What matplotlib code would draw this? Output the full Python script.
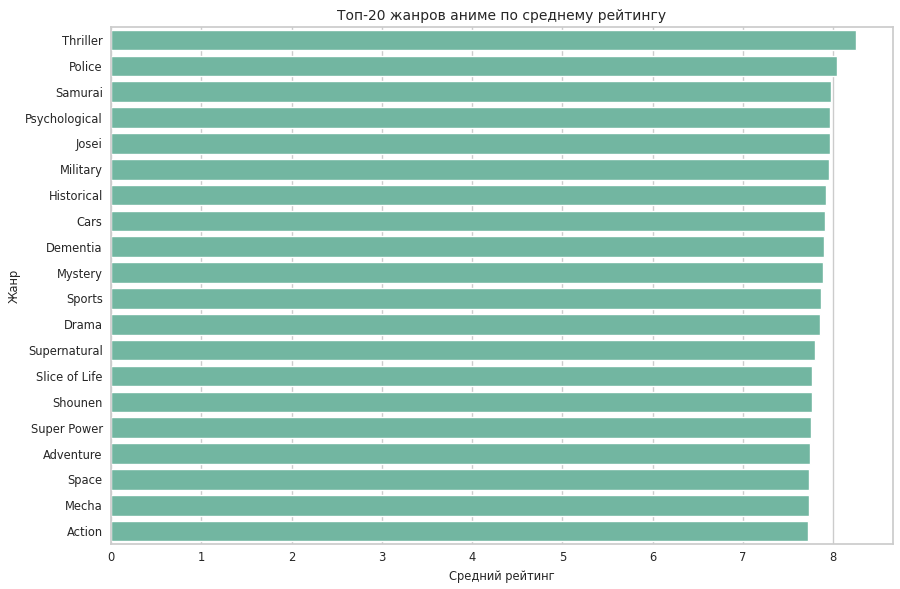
import matplotlib
matplotlib.use("Agg")
import matplotlib.pyplot as plt
import seaborn as sns
import pandas as pd

genres = ["Thriller", "Police", "Samurai", "Psychological", "Josei", "Military",
          "Historical", "Cars", "Dementia", "Mystery", "Sports", "Drama",
          "Supernatural", "Slice of Life", "Shounen", "Super Power", "Adventure",
          "Space", "Mecha", "Action"]
ratings = [8.246, 8.04, 7.977, 7.966, 7.965, 7.955, 7.918, 7.91, 7.891, 7.89,
           7.862, 7.855, 7.796, 7.763, 7.762, 7.75, 7.74, 7.733, 7.725, 7.714]

df = pd.DataFrame({"genre": genres, "rating": ratings})

sns.set_theme(style="whitegrid")
plt.rcParams['font.family'] = ['DejaVu Sans']

fig, ax = plt.subplots(figsize=(9, 5.89), dpi=100)
sns.barplot(data=df, x="rating", y="genre", color=sns.color_palette("Set2")[0], ax=ax)
ax.set_title("Топ-20 жанров аниме по среднему рейтингу", fontsize=10, pad=5)
ax.set_xlabel("Средний рейтинг", fontsize=8.3, labelpad=4)
ax.set_ylabel("Жанр", fontsize=8.3, labelpad=3)
ax.tick_params(axis='both', labelsize=8.3, length=0)
ax.tick_params(axis='y', pad=6)
ax.tick_params(axis='x', pad=5)
fig.subplots_adjust(left=0.1233, right=0.992, top=0.954, bottom=0.0764)
fig.savefig("out.png", dpi=100)
